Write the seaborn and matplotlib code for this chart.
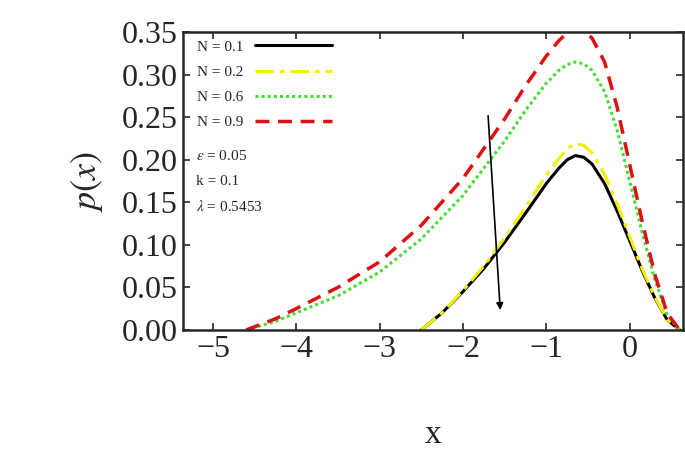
import matplotlib
matplotlib.use("Agg")
import matplotlib.pyplot as plt
import seaborn as sns
import pandas as pd
import numpy as np

sns.set_style("ticks")
plt.rcParams['font.family'] = ['Liberation Serif', 'DejaVu Serif']
plt.rcParams['mathtext.fontset'] = 'stix'

# values
x_a = [-2.5, -2.25, -2.0, -1.75, -1.5, -1.25, -1.0, -0.85, -0.75, -0.65, -0.55, -0.45, -0.3, -0.15, 0.0, 0.15, 0.3, 0.45, 0.6]
y_n01 = [0.0, 0.02, 0.045, 0.072, 0.103, 0.137, 0.172, 0.19, 0.2, 0.205, 0.203, 0.195, 0.172, 0.14, 0.105, 0.07, 0.038, 0.012, 0.0]
y_n02 = [0.0, 0.02, 0.046, 0.075, 0.108, 0.144, 0.182, 0.201, 0.213, 0.219, 0.217, 0.208, 0.183, 0.148, 0.11, 0.072, 0.039, 0.012, 0.0]

x_b = [-4.6, -4.25, -4.0, -3.5, -3.0, -2.5, -2.0, -1.5, -1.25, -1.0, -0.85, -0.75, -0.65, -0.55, -0.45, -0.3, -0.15, 0.0, 0.15, 0.3, 0.45, 0.6]
y_n06 = [0.0, 0.01, 0.02, 0.04, 0.068, 0.107, 0.158, 0.222, 0.258, 0.29, 0.305, 0.312, 0.315, 0.313, 0.305, 0.28, 0.235, 0.175, 0.115, 0.06, 0.018, 0.0]
y_n09 = [0.0, 0.013, 0.025, 0.05, 0.08, 0.123, 0.178, 0.248, 0.287, 0.322, 0.34, 0.349, 0.355, 0.352, 0.343, 0.315, 0.262, 0.195, 0.128, 0.066, 0.02, 0.0]

fig = plt.figure(figsize=(6.85, 4.74), dpi=100)
ax = fig.add_axes([0.267, 0.304, 0.73, 0.628])

sns.lineplot(x=x_a, y=y_n01, ax=ax, color='black', lw=2.2, label='N = 0.1')
sns.lineplot(x=x_a, y=y_n02, ax=ax, color='#f0f000', lw=2.2, dashes=False, label='N = 0.2')
ax.lines[-1].set_linestyle((0, (6, 2, 1.5, 2)))
sns.lineplot(x=x_b, y=y_n06, ax=ax, color='#44dd33', lw=2.2, label='N = 0.6')
ax.lines[-1].set_linestyle((0, (1, 1)))
sns.lineplot(x=x_b, y=y_n09, ax=ax, color='#dd1111', lw=2.5, label='N = 0.9')
ax.lines[-1].set_linestyle((0, (4, 2.5)))

ax.set_xlim(-5.36, 0.64)
ax.set_ylim(0, 0.35)
ax.set_xticks([-5, -4, -3, -2, -1, 0])
ax.set_xticklabels(['\u22125', '\u22124', '\u22123', '\u22122', '\u22121', '0'])
ax.set_yticks(np.arange(0, 0.351, 0.05))
ax.set_yticklabels([f'{v:.2f}' for v in np.arange(0, 0.351, 0.05)])
ax.tick_params(labelsize=23, direction='in', length=5, width=1.2, top=True, right=True)
for s in ax.spines.values():
    s.set_linewidth(1.8)

ax.set_xlabel('x', fontsize=24, labelpad=40)
ax.set_ylabel('$p(x)$', fontsize=26, labelpad=12)

leg = ax.legend(loc='upper left', frameon=False, fontsize=11, handlelength=5,
                bbox_to_anchor=(0.0, 1.02), labelspacing=0.75, markerfirst=False)

ax.text(-5.2, 0.2, '$\\epsilon$ = 0.05', fontsize=11)
ax.text(-5.2, 0.17, 'k = 0.1', fontsize=11)
ax.text(-5.2, 0.14, '$\\lambda$ = 0.5453', fontsize=11)

ax.annotate('', xy=(-1.55, 0.02), xytext=(-1.7, 0.255),
            arrowprops=dict(arrowstyle='-|>', color='black', lw=1.2))

fig.savefig('out.png', dpi=100)
